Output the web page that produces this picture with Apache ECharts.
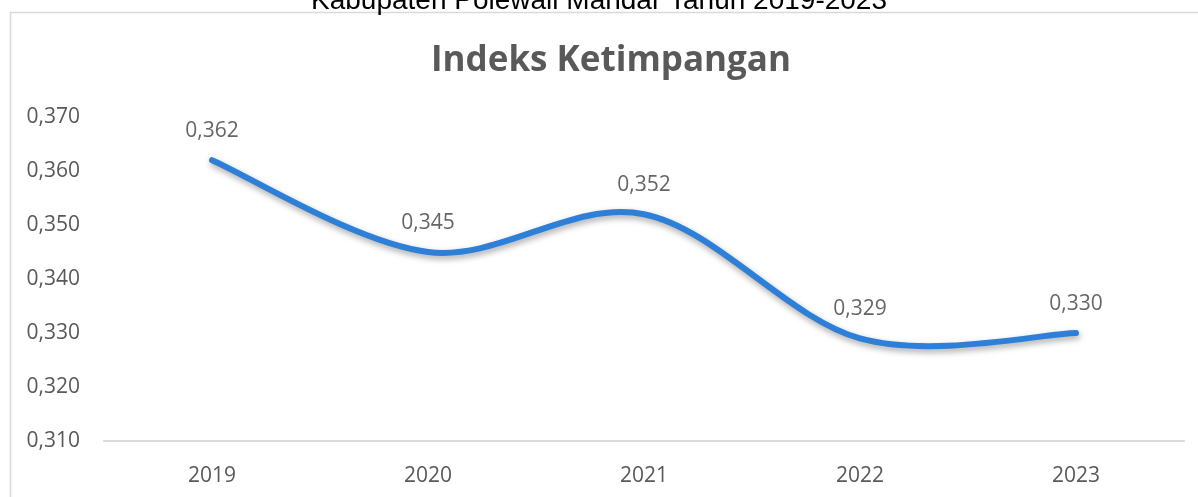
<!DOCTYPE html>
<html>
<head>
<meta charset="utf-8">
<script src="https://cdn.jsdelivr.net/npm/echarts@6/dist/echarts.min.js"></script>
<style>
  html, body { margin: 0; padding: 0; background: #fff; }
</style>
</head>
<body>
<div id="chart" style="width: 1198px;height:497px;"></div>
<script>
var years = ["2019", "2020", "2021", "2022", "2023"];
var indeks = [0.362, 0.345, 0.352, 0.329, 0.330];
var yMin = 0.31;
var yMax = 0.37;
var yStep = 0.01;

function koma(v, d) {
  return v.toFixed(d).replace(".", ",");
}

// kurva halus ala Excel (Catmull-Rom -> Bezier)
function renderKurva(params, api) {
  if (params.dataIndex !== 0) return;
  var pts = indeks.map(function(v, i) {
    return api.coord([i, v]);
  });
  var d = "M" + pts[0][0] + " " + pts[0][1];
  for (var i = 0; i < pts.length - 1; i++) {
    var p0 = pts[i - 1] || pts[i];
    var p1 = pts[i];
    var p2 = pts[i + 1];
    var p3 = pts[i + 2] || pts[i + 1];
    var c1x = p1[0] + (p2[0] - p0[0]) / 6;
    var c1y = p1[1] + (p2[1] - p0[1]) / 6;
    var c2x = p2[0] - (p3[0] - p1[0]) / 6;
    var c2y = p2[1] - (p3[1] - p1[1]) / 6;
    d += " C" + c1x + " " + c1y + " " + c2x + " " + c2y + " " + p2[0] + " " + p2[1];
  }
  return {
    type: "path",
    shape: { pathData: d },
    style: {
      fill: "none",
      stroke: "#2e7fd8",
      lineWidth: 6,
      lineCap: "round",
      lineJoin: "round",
      shadowColor: "rgba(0,0,0,0.35)",
      shadowBlur: 6,
      shadowOffsetX: 1,
      shadowOffsetY: 3
    }
  };
}

var chart = echarts.init(document.getElementById("chart"));
chart.setOption({
  animation: false,
  backgroundColor: "#fff",
  title: {
    text: "Indeks Ketimpangan",
    left: 426,
    top: 39,
    textStyle: {
      fontFamily: "Open Sans",
      fontWeight: "bold",
      fontSize: 35,
      color: "#595959"
    }
  },
  graphic: [
    {
      type: "rect",
      shape: { x: 10.5, y: 12.5, width: 1200, height: 500 },
      style: { fill: "none", stroke: "#d9d9d9", lineWidth: 1.5 },
      z: -1
    },
    {
      type: "text",
      left: "center",
      top: -13,
      style: {
        text: "Kabupaten Polewali Mandar Tahun 2019-2023",
        font: "28px 'Liberation Sans'",
        fill: "#000"
      }
    }
  ],
  grid: {
    left: 104,
    right: 14,
    top: 117,
    bottom: 56
  },
  xAxis: {
    type: "category",
    data: years,
    boundaryGap: true,
    axisLine: { lineStyle: { color: "#d9d9d9", width: 2 } },
    axisTick: { show: false },
    axisLabel: {
      color: "#595959",
      fontFamily: "Open Sans",
      fontSize: 21,
      margin: 25
    }
  },
  yAxis: {
    type: "value",
    min: yMin,
    max: yMax,
    interval: yStep,
    axisLine: { show: false },
    axisTick: { show: false },
    splitLine: { show: false },
    axisLabel: {
      color: "#595959",
      fontFamily: "Open Sans",
      fontSize: 21,
      margin: 24,
      formatter: function(v) {
        return koma(v, 3);
      }
    }
  },
  series: [
    {
      type: "custom",
      data: indeks.map(function(v, i) {
        return [i, v];
      }),
      renderItem: renderKurva,
      z: 2
    },
    {
      type: "scatter",
      data: indeks,
      symbolSize: 1,
      itemStyle: { color: "rgba(0,0,0,0)" },
      z: 3,
      label: {
        show: true,
        position: "top",
        distance: 18,
        color: "#404040",
        fontFamily: "Open Sans",
        fontSize: 21,
        formatter: function(p) {
          return koma(p.value, 3);
        }
      }
    }
  ]
});
</script>
</body>
</html>
